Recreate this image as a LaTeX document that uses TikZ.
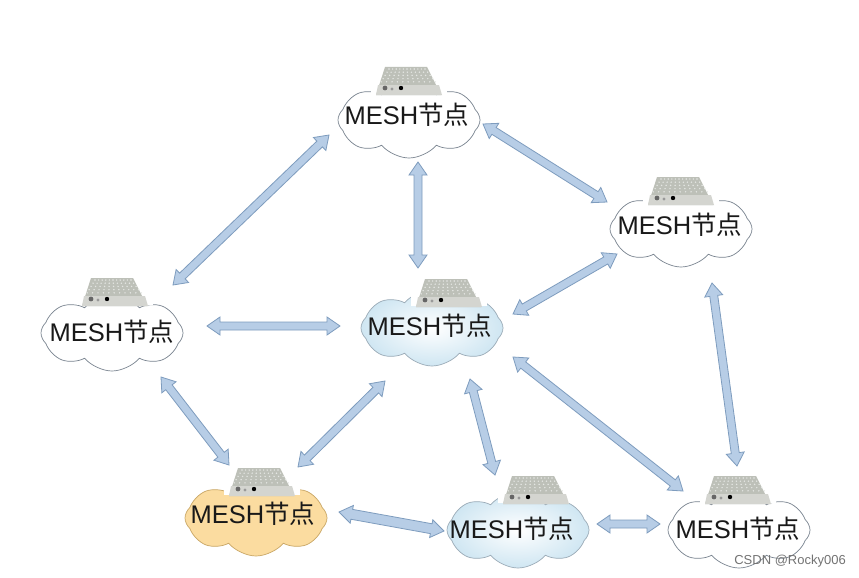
\documentclass[tikz,border=0pt]{standalone}
\usepackage{fontspec}
\setmainfont{Liberation Sans}
\newfontfamily\cjk{Noto Sans CJK SC}
\usetikzlibrary{calc,shapes.symbols}
\definecolor{arrowfill}{HTML}{B7CDE6}
\definecolor{arrowline}{HTML}{7E9CBE}
\definecolor{cloudline}{HTML}{79838F}
\definecolor{cloudblue}{HTML}{CFE6F2}
\definecolor{cloudorange}{HTML}{FBDCA0}
\definecolor{orangeline}{HTML}{C9A766}
\definecolor{devtop}{HTML}{BDC0B8}
\definecolor{devband}{HTML}{D4D5D0}
\tikzset{
  meshcloud/.style={shape=cloud,cloud puffs=8,cloud puff arc=100,aspect=1.9,
    minimum width=142pt,minimum height=76pt,inner sep=0pt,draw=cloudline,line width=0.7pt,fill=white},
  bluecloud/.style={meshcloud,inner color=white,outer color=cloudblue,draw=cloudline!60!cloudblue},
  orangecloud/.style={meshcloud,fill=cloudorange,draw=orangeline},
  meshlabel/.style={font=\fontsize{25.5}{25.5}\selectfont,inner sep=0pt,text=black!90},
  arrowbox/.style={draw=arrowline,fill=arrowfill,line width=0.8pt,line join=miter},
  device/.pic={
    \fill[white] (-38,-18) rectangle (38,12);
    \fill[devtop] (-24,-15) -- (18,-15) -- (32,13) -- (-33,13) -- cycle;
    \fill[devband] (-31,3) -- (30,3) -- (33,13) -- (-33,13) -- cycle;
    \foreach \r in {0,...,4}
      \foreach \c in {-5,...,5}
        \fill[white!60!devtop] ({\c*(3.6+0.45*\r)-2+0.3*\r},{-13+3.2*\r}) circle (0.8);
    \fill[black] (-8,6) circle (2.2);
    \fill[black!60] (-24,6) circle (2.4);
    \fill[black!40] (-17,7) circle (1.6);
  }
}
\newcommand{\dbl}[3][4]{%
  \path #2 coordinate (p) #3 coordinate (q);
  \coordinate (p1) at ($(p)!13pt!(q)$);
  \coordinate (q1) at ($(q)!13pt!(p)$);
  \draw[arrowbox] (p) -- ($(p1)!9pt!90:(q)$) -- ($(p1)!#1pt!90:(q)$)
    -- ($(q1)!#1pt!-90:(p)$) -- ($(q1)!9pt!-90:(p)$) -- (q)
    -- ($(q1)!9pt!90:(p)$) -- ($(q1)!#1pt!90:(p)$)
    -- ($(p1)!#1pt!-90:(q)$) -- ($(p1)!9pt!-90:(q)$) -- cycle;
}
\begin{document}
\begin{tikzpicture}[x=1pt,y=-1pt]
\useasboundingbox (0,0) rectangle (859,578);
\fill[white] (0,0) rectangle (859,578);
% clouds
\node[meshcloud] (top) at (409,120) {};
\node[meshcloud] (right) at (681,229) {};
\node[meshcloud] (left) at (112,333) {};
\node[bluecloud] (center) at (432,328) {};
\node[orangecloud] (orange) at (256,518) {};
\node[bluecloud] (botmid) at (518,530) {};
\node[meshcloud] (botright) at (739,530) {};
% devices
\pic at (409,82) {device};
\pic at (681,192) {device};
\pic at (115,293) {device};
\pic at (449,294) {device};
\pic at (262,483) {device};
\pic at (536,491) {device};
\pic at (738,491) {device};
% labels
\node[meshlabel] (ltop) at (407,115) {MESH{\cjk 节点}};
\node[meshlabel] (lright) at (680,225) {MESH{\cjk 节点}};
\node[meshlabel] (lleft) at (112,332) {MESH{\cjk 节点}};
\node[meshlabel] (lcenter) at (430,326) {MESH{\cjk 节点}};
\node[meshlabel] (lorange) at (253,514) {MESH{\cjk 节点}};
\node[meshlabel] (lbotmid) at (512,529) {MESH{\cjk 节点}};
\node[meshlabel] (lbotright) at (738,529) {MESH{\cjk 节点}};
% connectors
\dbl{($(top)+(-80,15)$)}{($(left)+(61,-48)$)}
\dbl{($(top)+(9,42)$)}{($(center)+(-14,-60)$)}
\dbl{($(top)+(74,4)$)}{($(right)+(-74,-27)$)}
\dbl{($(center)+(81,-14)$)}{($(right)+(-64,25)$)}
\dbl{($(left)+(95,-7)$)}{($(center)+(-92,-2)$)}
\dbl{($(left)+(49,44)$)}{($(orange)+(-27,-53)$)}
\dbl{($(center)+(-47,53)$)}{($(orange)+(42,-51)$)}
\dbl{($(center)+(38,51)$)}{($(botmid)+(-23,-55)$)}
\dbl{($(center)+(81,29)$)}{($(botright)+(-56,-39)$)}
\dbl{($(right)+(31,54)$)}{($(botright)+(-2,-64)$)}
\dbl[5]{($(orange)+(83,-6)$)}{($(botmid)+(-74,1)$)}
\dbl{($(botmid)+(79,-6)$)}{($(botright)+(-79,-6)$)}
% watermark
\node[anchor=east,font=\fontsize{13}{13}\selectfont,text=black!55,inner sep=0pt] (mark) at (846,561) {CSDN @Rocky006};
\end{tikzpicture}
\end{document}
